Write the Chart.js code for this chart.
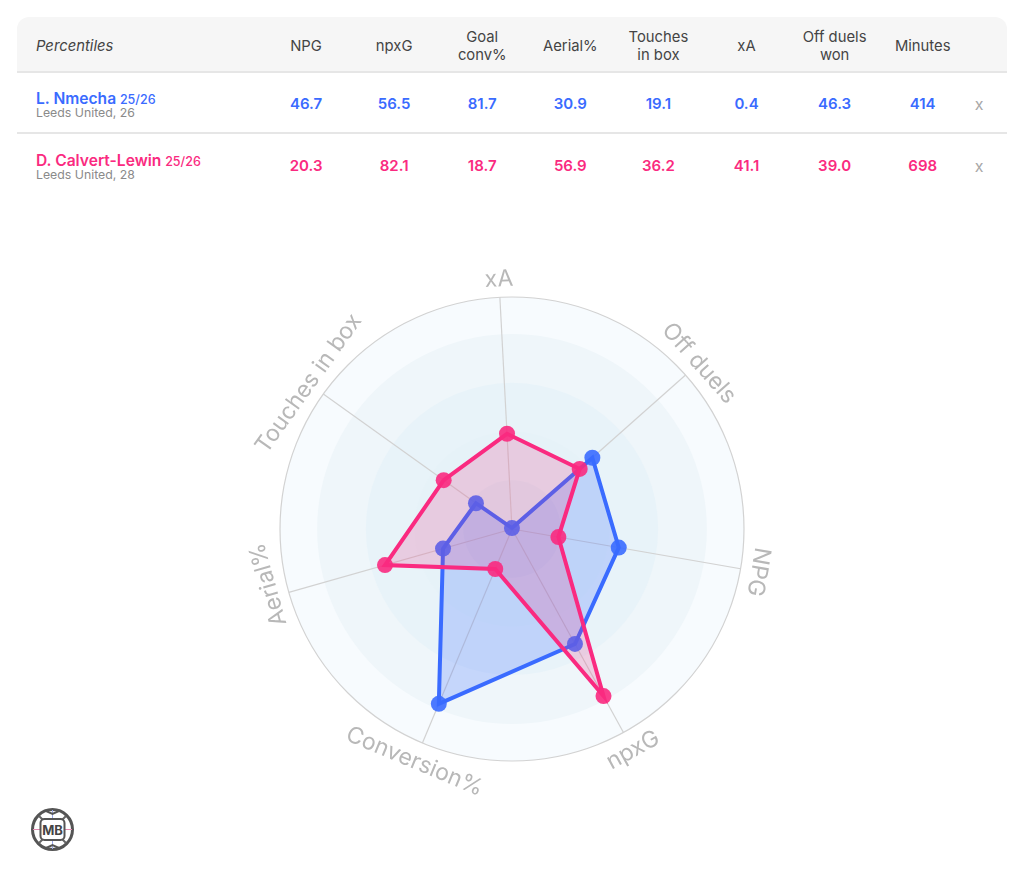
<!DOCTYPE html>
<html>
<head>
<meta charset="utf-8">
<title>Percentiles</title>
<script src="https://cdn.jsdelivr.net/npm/chart.js@4/dist/chart.umd.min.js"></script>
<style>
    html, body { margin: 0; padding: 0; background: #fff; font-family: Inter, "Noto Sans", sans-serif; }
    body { position: relative; width: 1024px; height: 896px; overflow: hidden; }

    #stats { position: absolute; left: 17px; top: 17px; width: 990px; border-collapse: separate; border-spacing: 0; table-layout: fixed; }
    #stats th { box-sizing: border-box; height: 56px; padding: 3px 0 0 0; background: #f6f6f6; border-bottom: 2px solid #e6e6e6; font-size: 14.8px; font-weight: 400; line-height: 18px; color: #444; }
    #stats th.first { text-align: left; padding-left: 19px; font-style: italic; border-top-left-radius: 12px; }
    #stats th.last { border-top-right-radius: 12px; }
    #stats td { box-sizing: border-box; height: 61px; padding: 1px 0 0 0; text-align: center; font-size: 15px; font-weight: 600; border-bottom: 2px solid #e6e6e6; }
    #stats tr:last-child td { border-bottom: none; }
    #stats td.player { text-align: left; padding: 6px 0 0 19px; line-height: 13px; }
    .name { font-size: 15.6px; font-weight: 600; }
    .season { font-size: 12.5px; font-weight: 500; }
    .club { display: block; font-size: 12.3px; font-weight: 400; color: #8a8a8a; }
    #stats td.remove { color: #a8a8a8; font-weight: 400; font-size: 16px; text-align: left; padding: 3px 0 0 8px; }

    #radarWrap { position: absolute; left: 162px; top: 178.5px; width: 700px; height: 700px; }
    #radarWrap canvas, #radarWrap svg { position: absolute; left: 0; top: 0; }
    #radarLabels text { font-family: Inter, sans-serif; font-size: 23px; fill: #b8b8b8; text-rendering: geometricPrecision; }

    #logo { position: absolute; left: 30px; top: 807px; }
</style>
</head>
<body>

<table id="stats"></table>

<div id="radarWrap">
    <canvas id="radar" width="700" height="700"></canvas>
    <svg id="radarLabels" width="700" height="700"></svg>
</div>

<svg id="logo" width="45" height="45" viewBox="0 0 45 45">
    <circle cx="22.5" cy="22.5" r="20" fill="#fff" stroke="#555" stroke-width="3"></circle>
    <path d="M22.5 3V12M22.5 33V42" stroke="#9aa7e8" stroke-width="1"></path>
    <path d="M3 22.5H10M35 22.5H42" stroke="#e08ab0" stroke-width="1"></path>
    <path d="M9 9L14 14M36 9L31 14M9 36L14 31M36 36L31 31" stroke="#666" stroke-width="2"></path>
    <path d="M15 3.5L22.5 7L30 3.5M15 41.5L22.5 38L30 41.5" stroke="#555" stroke-width="2" fill="none"></path>
    <rect x="10.5" y="12" width="24" height="21" rx="4" fill="#fff" stroke="#555" stroke-width="2"></rect>
    <text x="22.5" y="27.5" text-anchor="middle" font-family="Inter, sans-serif" font-size="13" font-weight="700" fill="#444">MB</text>
</svg>

<script>
// Columnas de la tabla, en el mismo orden (horario) que los ejes del radar
const tableHeaders = ['NPG', 'npxG', 'Goal<br>conv%', 'Aerial%', 'Touches<br>in box', 'xA', 'Off duels<br>won', 'Minutes'];
const radarAxes = ['NPG', 'npxG', 'Conversion%', 'Aerial%', 'Touches in box', 'xA', 'Off duels'];

const nmechaValues = [46.7, 56.5, 81.7, 30.9, 19.1, 0.4, 46.3];
const calvertValues = [20.3, 82.1, 18.7, 56.9, 36.2, 41.1, 39.0];
const nmechaMinutes = 414;
const calvertMinutes = 698;

// Anillos de fondo
const ringStops = [100, 84, 63, 42, 21];
const ringColors = ['#f7fbfe', '#eff6fa', '#e8f3f9', '#e6f2f8', '#e0eef6'];

const BLUE = '#3a6bff';
const PINK = '#fa2a80';

function playerRow(name, club, color, values, minutes) {
    const cells = values.map(v => `<td style="color:${color}">${v.toFixed(1)}</td>`).join('');
    return `<tr>
        <td class="player"><span class="name" style="color:${color}">${name}</span>
            <span class="season" style="color:${color}">25/26</span>
            <span class="club">${club}</span></td>
        ${cells}
        <td style="color:${color}">${minutes}</td>
        <td class="remove">x</td>
    </tr>`;
}

function renderTable() {
    const head = tableHeaders.map(h => `<th>${h}</th>`).join('');
    document.getElementById('stats').innerHTML = `
        <colgroup><col style="width:245px">${'<col style="width:88.1px">'.repeat(8)}<col></colgroup>
        <tr><th class="first">Percentiles</th>${head}<th class="last"></th></tr>
        ${playerRow('L. Nmecha', 'Leeds United, 26', BLUE, nmechaValues, nmechaMinutes)}
        ${playerRow('D. Calvert-Lewin', 'Leeds United, 28', PINK, calvertValues, calvertMinutes)}`;
}

// Pinta los anillos antes de que se dibuje la escala
const ringsPlugin = {
    id: 'rings',
    beforeDraw(chart) {
        const scale = chart.scales.r;
        const ctx = chart.ctx;
        ringStops.forEach((stop, i) => {
            ctx.beginPath();
            ctx.arc(scale.xCenter, scale.yCenter, scale.getDistanceFromCenterForValue(stop), 0, Math.PI * 2);
            ctx.fillStyle = ringColors[i];
            ctx.fill();
        });
    }
};

// Etiquetas giradas alrededor del circulo exterior
function renderAxisLabels(chart) {
    const scale = chart.scales.r;
    const svg = document.getElementById('radarLabels');
    const ns = 'http://www.w3.org/2000/svg';

    radarAxes.forEach((label, i) => {
        const angle = scale.getIndexAngle(i);
        const deg = angle * 180 / Math.PI % 360;
        const bottom = deg > 120 && deg < 240;
        const r = scale.drawingArea + 19;
        // Aerial% esta un poco desplazada en el original
        const nudge = label === 'Aerial%' ? 3 * Math.PI / 180 : 0;
        const x = scale.xCenter + r * Math.sin(angle + nudge);
        const y = scale.yCenter - r * Math.cos(angle + nudge);

        const text = document.createElementNS(ns, 'text');
        text.setAttribute('text-anchor', 'middle');
        text.setAttribute('dominant-baseline', 'central');
        text.setAttribute('transform', `translate(${x} ${y}) rotate(${bottom ? deg - 180 : deg})`);
        text.textContent = label;
        svg.appendChild(text);
    });
}

function renderRadar() {
    const chart = new Chart(document.getElementById('radar').getContext('2d'), {
        type: 'radar',
        data: {
            labels: radarAxes,
            datasets: [
                { label: 'D. Calvert-Lewin', data: calvertValues, borderColor: PINK, backgroundColor: 'rgba(235,50,130,0.2)', pointBackgroundColor: 'rgba(250,42,128,0.9)', pointBorderWidth: 0, pointRadius: 8, borderWidth: 4, fill: true, tension: 0 },
                { label: 'L. Nmecha', data: nmechaValues, borderColor: BLUE, backgroundColor: 'rgba(51,102,255,0.22)', pointBackgroundColor: 'rgba(58,107,255,0.9)', pointBorderWidth: 0, pointRadius: 8, borderWidth: 4, fill: true, tension: 0 }
            ]
        },
        options: {
            responsive: false,
            animation: false,
            layout: { padding: 118 },
            plugins: { legend: { display: false }, tooltip: { enabled: false } },
            scales: {
                r: {
                    min: 0,
                    max: 100,
                    startAngle: 99.86,
                    ticks: { display: false, stepSize: 100 },
                    pointLabels: { display: false },
                    grid: { circular: true, color: '#d2d2d2', lineWidth: 1.2 },
                    angleLines: { color: '#d2d2d2', lineWidth: 1.2 }
                }
            }
        },
        plugins: [ringsPlugin]
    });
    renderAxisLabels(chart);
}

document.addEventListener('DOMContentLoaded', () => {
    renderTable();
    renderRadar();
});
</script>
</body>
</html>
